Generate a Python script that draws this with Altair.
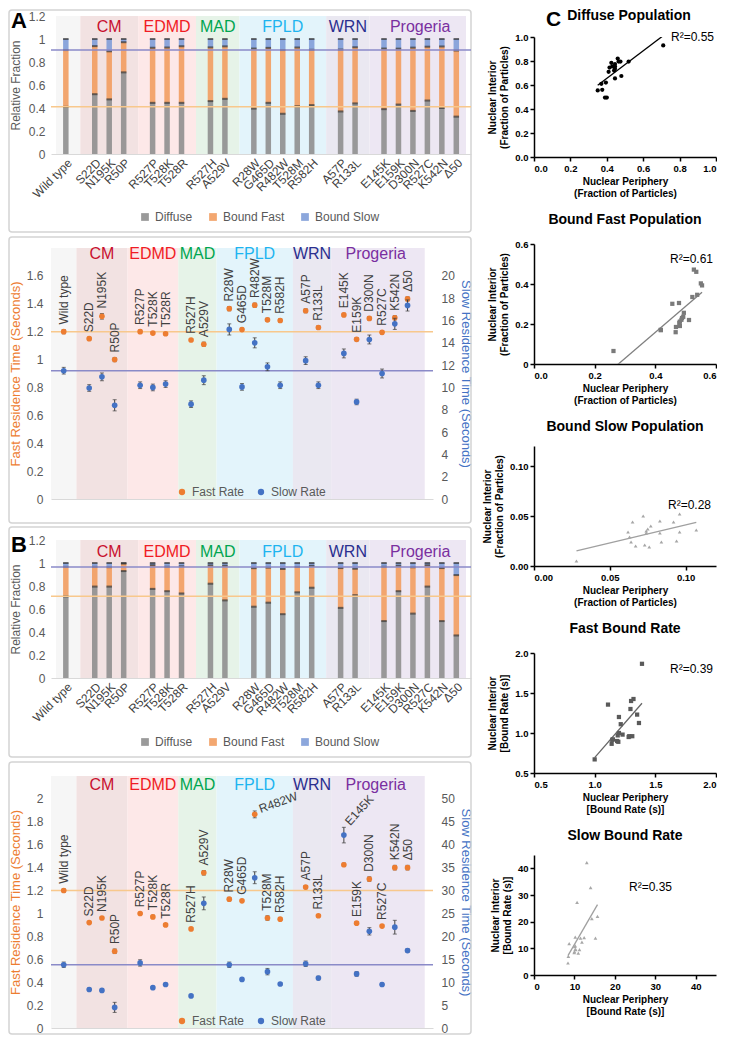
import json
import altair as alt
import pandas as pd

# ---------------- data ----------------
variants = ["Wild type", "S22D", "N195K", "R50P", "R527P", "T528K", "T528R", "R527H", "A529V",
            "R28W", "G465D", "R482W", "T528M", "R582H", "A57P", "R133L",
            "E145K", "E159K", "D300N", "R527C", "K542N", "Δ50"]
groups = ["Wild type", "CM", "CM", "CM", "EDMD", "EDMD", "EDMD", "MAD", "MAD",
          "FPLD", "FPLD", "FPLD", "FPLD", "FPLD", "WRN", "WRN",
          "Progeria", "Progeria", "Progeria", "Progeria", "Progeria", "Progeria"]
group_names = ["Wild type", "CM", "EDMD", "MAD", "FPLD", "WRN", "Progeria"]
components = ["Diffuse", "Bound Fast", "Bound Slow"]
rate_series = ["Fast Rate", "Slow Rate"]

# Panel A (nuclear periphery) relative fractions
a_diffuse = [0.41, 0.52, 0.475, 0.71, 0.445, 0.445, 0.445, 0.46, 0.48, 0.395, 0.445, 0.35, 0.415, 0.425,
             0.37, 0.44, 0.39, 0.43, 0.375, 0.465, 0.40, 0.325]
a_fast = [0.494, 0.418, 0.418, 0.262, 0.479, 0.481, 0.492, 0.467, 0.456, 0.522, 0.478, 0.554, 0.511, 0.481,
          0.538, 0.488, 0.527, 0.486, 0.55, 0.468, 0.535, 0.575]
a_slow = [0.096, 0.062, 0.107, 0.028, 0.076, 0.074, 0.063, 0.073, 0.064, 0.083, 0.077, 0.096, 0.074, 0.094,
          0.092, 0.072, 0.083, 0.084, 0.075, 0.067, 0.065, 0.10]
# Panel B (nuclear interior) relative fractions
b_diffuse = [0.71, 0.795, 0.795, 0.93, 0.775, 0.755, 0.735, 0.82, 0.675, 0.62, 0.655, 0.555, 0.745, 0.785,
             0.61, 0.72, 0.495, 0.755, 0.56, 0.795, 0.495, 0.37]
b_fast = [0.256, 0.171, 0.169, 0.065, 0.206, 0.212, 0.236, 0.159, 0.301, 0.335, 0.305, 0.393, 0.22, 0.19,
          0.346, 0.23, 0.472, 0.221, 0.403, 0.185, 0.461, 0.525]
b_slow = [0.034, 0.034, 0.036, 0.005, 0.019, 0.033, 0.029, 0.021, 0.024, 0.045, 0.040, 0.052, 0.035, 0.025,
          0.044, 0.050, 0.033, 0.024, 0.037, 0.020, 0.044, 0.105]

# residence times (seconds) and error bars
a_fast_rate = [1.20, 1.15, 1.31, 1.00, 1.20, 1.19, 1.185, 1.14, 1.11, 1.365, 1.215, 1.39, 1.285, 1.28,
               1.35, 1.23, 1.32, 1.145, 1.295, 1.195, 1.30, 1.435]
a_fast_err = [0.015, 0.01, 0.02, 0.015, 0.012, 0.01, 0.01, 0.01, 0.015, 0.015, 0.01, 0.015, 0.012, 0.012,
              0.015, 0.012, 0.012, 0.012, 0.012, 0.012, 0.015, 0.015]
a_slow_rate = [11.5, 9.95, 10.95, 8.4, 10.2, 10.0, 10.3, 8.5, 10.65, 15.2, 10.05, 14.0, 11.85, 10.2,
               12.4, 10.2, 13.05, 8.7, 14.3, 11.25, 15.7, 17.35]
a_slow_err = [0.3, 0.3, 0.35, 0.5, 0.3, 0.3, 0.3, 0.3, 0.4, 0.5, 0.3, 0.45, 0.35, 0.3,
              0.35, 0.3, 0.4, 0.25, 0.4, 0.4, 0.5, 0.5]
b_fast_rate = [1.20, 0.92, 0.96, 0.67, 1.00, 0.97, 0.90, 0.865, 1.355, 1.125, 1.11, 1.865, 0.96, 0.95,
               1.23, 0.98, 1.425, 0.915, 1.30, 0.89, 1.40, 1.40]
b_fast_err = [0.015, 0.01, 0.01, 0.02, 0.01, 0.015, 0.01, 0.01, 0.02, 0.015, 0.01, 0.03, 0.02, 0.01,
              0.015, 0.01, 0.015, 0.01, 0.02, 0.01, 0.02, 0.02]
b_slow_rate = [13.8, 8.4, 8.2, 4.5, 14.2, 8.8, 9.5, 7.0, 27.2, 13.8, 10.6, 32.8, 12.3, 9.6,
               14.0, 10.9, 42.1, 11.8, 21.1, 9.5, 22.0, 16.9]
b_slow_err = [0.6, 0.3, 0.3, 1.1, 0.7, 0.3, 0.3, 0.3, 1.4, 0.6, 0.3, 1.3, 0.7, 0.3,
              0.6, 0.4, 1.7, 0.5, 0.8, 0.3, 1.5, 0.4]

scatter_excluded = ["Δ50"]
r2_texts = ["R²=0.55", "R²=0.61", "R²=0.28", "R²=0.39", "R²=0.35"]

# ---------------- styles ----------------
FONT = "Liberation Sans"
GRAY_TXT = "#595959"
LBL_TXT = "#404040"
ORANGE = "#ED7D31"
BLUE = "#4472C4"
BAR_COLORS = ["#8f8f8f", "#f29d60", "#7f9dd8"]
BAND_BG = {"Wild type": "#f6f6f6", "CM": "#f2e2e2", "EDMD": "#fde8e8", "MAD": "#e6f3e8",
           "FPLD": "#e3f4fb", "WRN": "#eae8f1", "Progeria": "#ede7f3"}
GROUP_TXT = {"Wild type": "#000000", "CM": "#c8102e", "EDMD": "#f01c24", "MAD": "#00a550",
             "FPLD": "#1eb4f0", "WRN": "#2b2f8f", "Progeria": "#7a2fa0"}
REF_ORANGE = "#f8c88c"
REF_BLUE = "#8a8ac8"
ERR_C = "#404040"
BOX_C = "#d4d4d4"
LABEL_ANGLE_B = {"R482W": 340, "E145K": 312}

# ---------------- slot layout derived from groups ----------------
slots = []
prev = None
s = -1
for g in groups:
    s += 1 if (prev is None or g == prev) else 2
    slots.append(s)
    prev = g
last_slot = slots[-1]
ginfo = []
for gname in group_names:
    idx = [i for i, g in enumerate(groups) if g == gname]
    ginfo.append((gname, slots[idx[0]], slots[idx[-1]]))

label_arr = [""] * (last_slot + 1)
for v, sl in zip(variants, slots):
    label_arr[sl] = v
label_expr = json.dumps(label_arr, ensure_ascii=False) + "[datum.value]"

one = pd.DataFrame({"z": [0]})


def band_frame(x_left, x_right):
    rows = []
    for gi, (g, first, last) in enumerate(ginfo):
        x0 = x_left if gi == 0 else first - 1
        x1 = x_right if gi == len(ginfo) - 1 else last + 1
        rows.append({"group": g, "x0": x0, "x1": x1, "bg": BAND_BG[g], "mid": (first + last) / 2,
                     "tc": GROUP_TXT[g]})
    return pd.DataFrame(rows)


def frame_box(y0, y1):
    return alt.Chart(one).mark_rect(fill="transparent", stroke=BOX_C, strokeWidth=1.5, cornerRadius=3).encode(
        x=alt.value(-42), x2=alt.value(420), y=alt.value(y0), y2=alt.value(y1))


def spacer():
    return alt.Chart(one).mark_point(opacity=0, size=0).encode(x=alt.value(0), y=alt.value(0)).properties(
        width=1, height=1)


# ---------------- stacked fraction panel ----------------
def frac_chart(d, f, sl, letter, legend_y, glabel_y, box):
    W, H = 420, 138
    X0, X1 = -0.68, last_slot + 0.67
    rows = []
    for i, v in enumerate(variants):
        for k, (comp, arr) in enumerate(zip(components, (d, f, sl))):
            rows.append({"variant": v, "pos": slots[i], "comp": comp, "val": arr[i], "k": k})
    df = pd.DataFrame(rows)
    bdf = band_frame(X0, X1)
    xsc = alt.Scale(domain=[X0, X1], nice=False, zero=False)
    xax = alt.Axis(values=slots, labelExpr=label_expr, labelAngle=-45, labelFontSize=12,
                   labelColor=LBL_TXT, domainColor="#d9d9d9", ticks=False, grid=False,
                   labelPadding=3, labelOverlap=False, labelFlush=False, labelBound=False)
    ysc = alt.Scale(domain=[0, 1.2], nice=False)
    yax = alt.Axis(values=[0, 0.2, 0.4, 0.6, 0.8, 1, 1.2], format="~g", labelFontSize=12,
                   labelColor=GRAY_TXT, titleColor=GRAY_TXT, titleFontSize=12, titleFontWeight="normal",
                   domain=False, ticks=False, grid=False, labelPadding=6, titlePadding=6,
                   labelOverlap=False, labelFlush=False)
    YT = "Relative Fraction"
    X = lambda fld: alt.X(fld, scale=xsc, axis=xax, title=None)
    Y = lambda fld: alt.Y(fld, scale=ysc, axis=yax, title=YT)

    bands = alt.Chart(bdf).mark_rect().encode(
        x=X("x0:Q"), x2="x1:Q", y=alt.value(0), y2=alt.value(H),
        fill=alt.Fill("bg:N", scale=None))
    glabels = alt.Chart(bdf[bdf.group != "Wild type"]).mark_text(fontSize=16, baseline="middle").encode(
        x=X("mid:Q"), y=alt.value(glabel_y), text="group:N", fill=alt.Fill("tc:N", scale=None))
    bars = alt.Chart(df).mark_bar(size=5.5, opacity=0.9).encode(
        x=X("pos:Q"), y=alt.Y("val:Q", stack="zero", scale=ysc, axis=yax, title=YT),
        color=alt.Color("comp:N", scale=alt.Scale(domain=components, range=BAR_COLORS),
                        legend=alt.Legend(orient="none", legendX=88, legendY=legend_y, direction="horizontal",
                                          title=None, symbolType="square", symbolSize=60, labelFontSize=12,
                                          labelColor=GRAY_TXT, symbolStrokeWidth=0, columnPadding=14)),
        order=alt.Order("k:Q", sort="ascending"))
    caps = alt.Chart(df).transform_stack(
        stack="val", groupby=["pos"], as_=["v0", "v1"], sort=[alt.SortField("k", order="ascending")]
    ).mark_tick(orient="horizontal", size=5.5, thickness=2, color="#333333").encode(
        x=X("pos:Q"), y=Y("v1:Q"))
    ref1 = alt.Chart(one).mark_rule(color=REF_ORANGE, strokeWidth=1.5).encode(
        y=alt.YDatum(d[0], scale=ysc, axis=yax, title=YT))
    ref2 = alt.Chart(one).mark_rule(color=REF_BLUE, strokeWidth=1.5).encode(
        y=alt.YDatum(d[0] + f[0], scale=ysc, axis=yax, title=YT))
    let = alt.Chart(one).mark_text(text=letter, fontSize=22, fontWeight="bold", align="left",
                                   baseline="alphabetic", color="black").encode(x=alt.value(-40), y=alt.value(12))
    return alt.layer(frame_box(*box), bands, glabels, bars, caps, ref1, ref2, let).properties(width=W, height=H)


# ---------------- residence time panel ----------------
def rate_chart(fr, fe, sr, se, H, ymax, lvals, ratio, rvals, angle_over, glabel_y, legend_y, box):
    W = 382
    X0, X1 = -1.0, last_slot + 2.0
    df = pd.DataFrame({"variant": variants, "pos": slots, "fast": fr, "fe": fe, "slow": sr, "se": se})
    df["ang"] = [angle_over.get(v, 270) for v in variants]
    bdf = band_frame(X0, last_slot + 1.35)
    xsc = alt.Scale(domain=[X0, X1], nice=False, zero=False)
    xax = alt.Axis(labels=False, ticks=False, domainColor="#d9d9d9", grid=False)
    lsc = alt.Scale(domain=[0, ymax], nice=False)
    rsc = alt.Scale(domain=[0, ymax * ratio], nice=False)
    lax = alt.Axis(values=lvals, format="~g", labelFontSize=12, labelColor=GRAY_TXT, titleColor=ORANGE,
                   titleFontSize=13, titleFontWeight="normal", domain=False, ticks=False, grid=False,
                   labelPadding=8, titlePadding=4, labelOverlap=False)
    rax = alt.Axis(orient="right", values=rvals, format="~g", labelFontSize=12, labelColor=GRAY_TXT,
                   titleColor=BLUE, titleFontSize=13, titleFontWeight="normal", domain=False, ticks=False,
                   grid=False, labelPadding=8, titlePadding=4, labelOverlap=False)
    LT = "Fast Residence Time (Seconds)"
    RT = "Slow Residence Time (Seconds)"
    X = lambda fld: alt.X(fld, scale=xsc, axis=xax, title=None)
    YL = lambda fld: alt.Y(fld, scale=lsc, axis=lax, title=LT)
    YR = lambda fld: alt.Y(fld, scale=rsc, axis=rax, title=RT)
    leg = alt.Legend(orient="none", legendX=125, legendY=legend_y, direction="horizontal", title=None,
                     symbolType="circle", symbolSize=40, labelFontSize=12, labelColor=GRAY_TXT,
                     symbolStrokeWidth=0, columnPadding=10)
    C = alt.Color("series:N", scale=alt.Scale(domain=rate_series, range=[ORANGE, BLUE]), legend=leg)

    base = alt.Chart(df).transform_calculate(
        flo="datum.fast - datum.fe", fhi="datum.fast + datum.fe",
        slo="datum.slow - datum.se", shi="datum.slow + datum.se")

    bands = alt.Chart(bdf).mark_rect().encode(
        x=X("x0:Q"), x2="x1:Q", y=alt.value(0), y2=alt.value(H), fill=alt.Fill("bg:N", scale=None))
    glabels = alt.Chart(bdf[bdf.group != "Wild type"]).mark_text(fontSize=16, baseline="middle").encode(
        x=X("mid:Q"), y=alt.value(glabel_y), text="group:N", fill=alt.Fill("tc:N", scale=None))
    ref_f = alt.Chart(one).mark_rule(color=REF_ORANGE, strokeWidth=1.5).encode(
        y=alt.YDatum(fr[0], scale=lsc, axis=lax, title=LT))
    rule_f = base.mark_rule(color=ERR_C, strokeWidth=1).encode(x=X("pos:Q"), y=YL("flo:Q"), y2="fhi:Q")
    caps_f = base.transform_fold(["flo", "fhi"], as_=["kk", "vv"]).mark_tick(
        orient="horizontal", size=4, thickness=1, color=ERR_C).encode(x=X("pos:Q"), y=YL("vv:Q"))
    pts_f = base.transform_calculate(series="'" + rate_series[0] + "'").mark_circle(size=32, opacity=1).encode(
        x=X("pos:Q"), y=YL("fast:Q"), color=C)
    labels = base.transform_calculate(
        lab=f"max(datum.fast + datum.fe, (datum.slow + datum.se) / {ratio})"
    ).mark_text(align="left", baseline="middle", dx=5, fontSize=12, color=LBL_TXT).encode(
        x=X("pos:Q"), y=YL("lab:Q"), text="variant:N", angle=alt.Angle("ang:Q", scale=None))
    left = alt.layer(frame_box(*box), bands, glabels, ref_f, rule_f, caps_f, pts_f, labels)

    ref_s = alt.Chart(one).mark_rule(color=REF_BLUE, strokeWidth=1.5).encode(
        y=alt.YDatum(sr[0], scale=rsc, axis=rax, title=RT))
    rule_s = base.mark_rule(color=ERR_C, strokeWidth=1).encode(x=X("pos:Q"), y=YR("slo:Q"), y2="shi:Q")
    caps_s = base.transform_fold(["slo", "shi"], as_=["kk", "vv"]).mark_tick(
        orient="horizontal", size=4, thickness=1, color=ERR_C).encode(x=X("pos:Q"), y=YR("vv:Q"))
    pts_s = base.transform_calculate(series="'" + rate_series[1] + "'").mark_circle(size=32, opacity=1).encode(
        x=X("pos:Q"), y=YR("slow:Q"), color=C)
    right = alt.layer(ref_s, rule_s, caps_s, pts_s)
    return alt.layer(left, right).resolve_scale(y="independent").properties(width=W, height=H)


# ---------------- scatter panels (C) ----------------
keep = [i for i, v in enumerate(variants) if v not in scatter_excluded]
SW, SH = 182, 120


def scatter(xv, yv, title, xdom, ydom, xvals, yvals, xfmt, ylabexpr, xtitle, ytitle,
            shape, color, size, line_color, r2, r2x, r2y, letter=None):
    df = pd.DataFrame({"x": [xv[i] for i in keep], "y": [yv[i] for i in keep]})
    xsc = alt.Scale(domain=xdom, nice=False, zero=False)
    ysc = alt.Scale(domain=ydom, nice=False, zero=False)
    common = dict(labelFontSize=9.5, labelFontWeight="bold", labelColor="black", titleFontSize=10,
                  titleFontWeight="bold", titleColor="black", domainColor="black", domainWidth=1.5,
                  tickColor="black", tickWidth=1.5, tickSize=4, labelPadding=2, grid=False, labelOverlap=False)
    xax = alt.Axis(values=xvals, format=xfmt, titlePadding=4, **common)
    yax = alt.Axis(values=yvals, labelExpr=ylabexpr, titlePadding=5, **common)
    X = alt.X("x:Q", scale=xsc, axis=xax, title=xtitle)
    Y = alt.Y("y:Q", scale=ysc, axis=yax, title=ytitle)
    reg = alt.Chart(df).transform_regression("x", "y").mark_line(
        color=line_color, strokeWidth=1.3, clip=True).encode(x=X, y=Y)
    pts = alt.Chart(df).mark_point(shape=shape, filled=True, size=size, color=color, opacity=1).encode(x=X, y=Y)
    r2t = alt.Chart(one).mark_text(text=r2, align="left", baseline="middle", fontSize=12, color="black").encode(
        x=alt.value(r2x), y=alt.value(r2y))
    layers = [reg, pts, r2t]
    props = dict(width=SW, height=SH)
    if letter:
        # panel letter sits beside the title, so the title is drawn as text here
        layers.append(alt.Chart(one).mark_text(text=letter, fontSize=21, fontWeight="bold", align="left",
                                               baseline="alphabetic", color="black").encode(
            x=alt.value(12), y=alt.value(-11)))
        layers.append(alt.Chart(one).mark_text(text=title, fontSize=14, fontWeight="bold", align="center",
                                               baseline="middle", color="black").encode(
            x=alt.value(SW / 2 + 4), y=alt.value(-21)))
    else:
        props["title"] = alt.TitleParams(title, fontSize=14, fontWeight="bold", anchor="middle", offset=12,
                                         frame="group")
    return alt.layer(*layers).properties(**props)


FRAC = "(Fraction of Particles)"
RATE = "[Bound Rate (s)]"
fmt1 = "format(datum.value, '.1f')"
sc1 = scatter(a_diffuse, b_diffuse, "Diffuse Population", [0, 1], [0, 1], [0, 0.2, 0.4, 0.6, 0.8, 1.0],
              [0, 0.2, 0.4, 0.6, 0.8, 1.0], ".1f", fmt1, ["Nuclear Periphery", FRAC], ["Nuclear Interior", FRAC],
              "circle", "black", 18, "black", r2_texts[0], 137, 0, letter="C")
sc2 = scatter(a_fast, b_fast, "Bound Fast Population", [0, 0.6], [0, 0.6], [0, 0.2, 0.4, 0.6],
              [0, 0.2, 0.4, 0.6], ".1f", "datum.value == 0 ? '0' : format(datum.value, '.1f')",
              ["Nuclear Periphery", FRAC], ["Nuclear Interior", FRAC],
              "square", "#7a7a7a", 18, "#808080", r2_texts[1], 136, 15)
sc3 = scatter(a_slow, b_slow, "Bound Slow Population", [0, 0.12], [0, 0.12], [0, 0.05, 0.10],
              [0, 0.05, 0.10], ".2f", "format(datum.value, '.2f')",
              ["Nuclear Periphery", FRAC], ["Nuclear Interior", FRAC],
              "triangle-up", "#a6a6a6", 14, "#a0a0a0", r2_texts[2], 134, 59)
sc4 = scatter(a_fast_rate, b_fast_rate, "Fast Bound Rate", [0.5, 2.0], [0.5, 2.0], [0.5, 1.0, 1.5, 2.0],
              [0.5, 1.0, 1.5, 2.0], ".1f", fmt1, ["Nuclear Periphery", RATE], ["Nuclear Interior", RATE],
              "square", "#5a5a5a", 18, "#666666", r2_texts[3], 136, 16)
sc5 = scatter(a_slow_rate, b_slow_rate, "Slow Bound Rate", [0, 45], [0, 45], [0, 10, 20, 30, 40],
              [0, 10, 20, 30, 40], "d", "format(datum.value, 'd')", ["Nuclear Periphery", RATE],
              ["Nuclear Interior", RATE], "triangle-up", "#a8a8a8", 14, "#a0a0a0", r2_texts[4], 95, 32)

# ---------------- assemble ----------------
a_top = frac_chart(a_diffuse, a_fast, a_slow, "A", 195, 11, (-6, 216))
a_bot = rate_chart(a_fast_rate, a_fast_err, a_slow_rate, a_slow_err, 251, 1.8,
                   [0, 0.2, 0.4, 0.6, 0.8, 1, 1.2, 1.4, 1.6], 12.5, list(range(0, 21, 2)), {}, 5.5, 238,
                   (-11, 275))
b_top = frac_chart(b_diffuse, b_fast, b_slow, "B", 196, 12, (-13, 217))
b_bot = rate_chart(b_fast_rate, b_fast_err, b_slow_rate, b_slow_err, 252, 2.2,
                   [0, 0.2, 0.4, 0.6, 0.8, 1, 1.2, 1.4, 1.6, 1.8, 2], 25, list(range(0, 51, 5)),
                   LABEL_ANGLE_B, 9, 239, (-14, 258))

IND = dict(color="independent")
left_body = alt.vconcat(
    alt.vconcat(a_top, a_bot, spacing=3).resolve_scale(**IND),
    alt.vconcat(b_top, b_bot, spacing=3).resolve_scale(**IND),
    spacing=2).resolve_scale(**IND)
left_col = alt.vconcat(spacer(), left_body, spacing=0).resolve_scale(**IND)
right_col = alt.vconcat(spacer(), alt.vconcat(sc1, sc2, sc3, sc4, sc5, spacing=14), spacing=0)

chart = alt.concat(left_col, right_col, columns=2, spacing=10, align="none").resolve_scale(**IND).properties(
    padding=0).configure(font=FONT).configure_view(stroke=None)

chart.save("out.html", embed_options={"renderer": "svg", "actions": False})
